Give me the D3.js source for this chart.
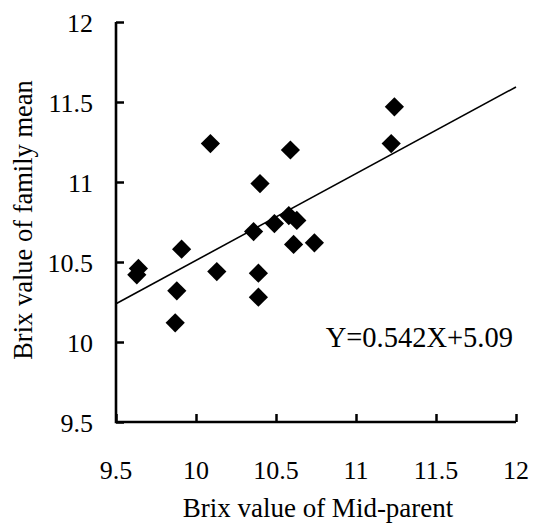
<!DOCTYPE html>
<html>
<head>
<meta charset="utf-8">
<script src="https://cdn.jsdelivr.net/npm/d3@7/dist/d3.min.js"></script>
<style>
  html, body { margin: 0; padding: 0; background: #fff; }
  svg { display: block; font-family: "Liberation Serif", "Times New Roman", serif; }
</style>
</head>
<body>
<svg id="chart" width="534" height="525"></svg>
<script>
// Mid-parent Brix (x) against family-mean Brix (y)
const midParent = [10.09, 10.59, 10.40, 11.24, 11.22, 9.64, 9.63, 9.91, 9.88, 9.87,
                   10.13, 10.36, 10.39, 10.39, 10.49, 10.58, 10.63, 10.61, 10.74];
const familyMean = [11.24, 11.20, 10.99, 11.47, 11.24, 10.46, 10.42, 10.58, 10.32, 10.12,
                    10.44, 10.69, 10.43, 10.28, 10.74, 10.79, 10.76, 10.61, 10.62];
const xTicks = [9.5, 10, 10.5, 11, 11.5, 12];
const yTicks = [9.5, 10, 10.5, 11, 11.5, 12];
const slope = 0.542, intercept = 5.09;

(function () {
  const svg = d3.select("#chart");
  const m = { left: 116, right: 516, top: 22, bottom: 422 };

  const x = d3.scaleLinear().domain([9.5, 12]).range([m.left, m.right]);
  const y = d3.scaleLinear().domain([9.5, 12]).range([m.bottom, m.top]);

  // Axes with inward ticks
  const xAxis = d3.axisTop(x).tickValues(xTicks).tickSize(8).tickFormat("");
  const yAxis = d3.axisRight(y).tickValues(yTicks).tickSize(8).tickFormat("");

  const gx = svg.append("g").attr("transform", `translate(0,${m.bottom})`).call(xAxis);
  const gy = svg.append("g").attr("transform", `translate(${m.left},0)`).call(yAxis);
  [gx, gy].forEach(g => {
    g.select(".domain").remove();
    g.selectAll(".tick line").attr("stroke", "#000").attr("stroke-width", 2.5);
  });
  svg.append("path")
    .attr("d", `M${m.left},${m.top}V${m.bottom}H${m.right}`)
    .attr("fill", "none").attr("stroke", "#000").attr("stroke-width", 2.6);

  // Tick labels
  svg.append("g").selectAll("text").data(xTicks).join("text")
    .attr("x", d => x(d)).attr("y", 479)
    .attr("text-anchor", "middle").attr("font-size", 26)
    .text(d => d);
  svg.append("g").selectAll("text").data(yTicks).join("text")
    .attr("x", 93).attr("y", d => y(d) + 10)
    .attr("text-anchor", "end").attr("font-size", 26)
    .text(d => d);

  // Axis titles
  svg.append("text")
    .attr("x", 318).attr("y", 517)
    .attr("text-anchor", "middle").attr("font-size", 27)
    .text("Brix value of Mid-parent");
  svg.append("text")
    .attr("transform", "translate(32,220) rotate(-90)")
    .attr("text-anchor", "middle").attr("font-size", 26.5)
    .text("Brix value of family mean");

  // Regression line
  const lineX = [9.5, 12];
  svg.append("line")
    .attr("x1", x(lineX[0])).attr("y1", y(slope * lineX[0] + intercept))
    .attr("x2", x(lineX[1])).attr("y2", y(slope * lineX[1] + intercept))
    .attr("stroke", "#000").attr("stroke-width", 1.6);

  // Diamond markers
  const diamond = d3.symbol().type(d3.symbolSquare).size(185);
  svg.append("g").selectAll("path").data(midParent).join("path")
    .attr("d", diamond)
    .attr("transform", (d, i) => `translate(${x(d)},${y(familyMean[i])}) rotate(45)`)
    .attr("fill", "#000");

  // Equation
  svg.append("text")
    .attr("x", 513).attr("y", 347)
    .attr("text-anchor", "end").attr("font-size", 28.5)
    .text("Y=0.542X+5.09");
})();
</script>
</body>
</html>
